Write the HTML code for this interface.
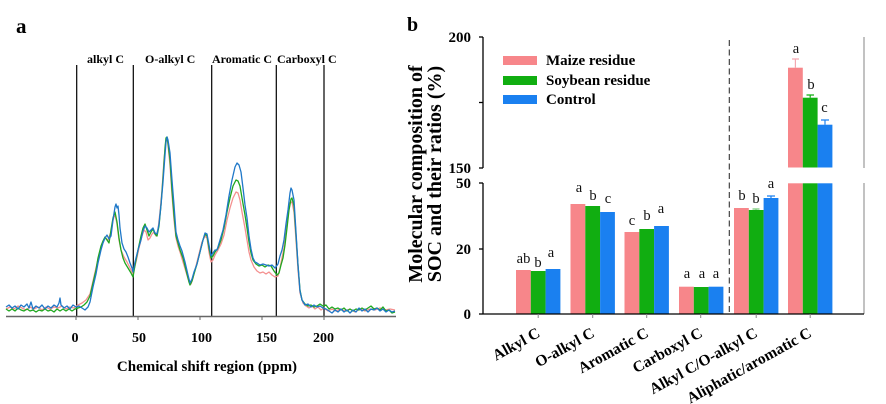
<!DOCTYPE html>
<html><head><meta charset="utf-8"><style>
html,body{margin:0;padding:0;background:#fff;}
svg{display:block;}
text{font-family:"Liberation Serif","Times New Roman",serif;}
.b{font-weight:bold;}
</style></head><body>
<svg width="886" height="404" viewBox="0 0 886 404" xmlns="http://www.w3.org/2000/svg">
<rect width="886" height="404" fill="#fff"/>
<!-- Panel a -->
<text x="16" y="33" class="b" font-size="21">a</text>
<g class="b" font-size="12" fill="#000">
<text x="87" y="63">alkyl C</text>
<text x="145" y="63">O-alkyl C</text>
<text x="212" y="63">Aromatic C</text>
<text x="277" y="63">Carboxyl C</text>
</g>
<g stroke="#000" stroke-width="1.2">
<line x1="76.7" y1="65" x2="76.7" y2="316"/>
<line x1="133.3" y1="65" x2="133.3" y2="316"/>
<line x1="211.7" y1="65" x2="211.7" y2="316"/>
<line x1="276.3" y1="65" x2="276.3" y2="316"/>
<line x1="324" y1="65" x2="324" y2="316"/>
</g>
<g fill="none" stroke-width="1.3" stroke-linejoin="round">
<polyline stroke="#f4908f" points="6,309 10,307 14,309 18,306 22,308 26,310 30,307 34,309 38,307 42,310 46,307 50,309 54,307 58,308 62,306 66,309 70,307 74,308 78,305 82,303 86,300 90,294 93,281 96,268 99,255 102,244 105,238 108,240 111,232 113,220 115,214 117,224 119,240 121,250 124,257 127,262 130,268 133,274 136,262 139,248 142,236 144,230 146,232 148,240 150,238 152,234 154,232 156,236 158,230 160,212 162,190 164,160 166,140 167,138 168,145 170,165 172,195 174,220 176,238 178,246 180,252 183,262 186,272 189,282 191,284 193,278 196,266 199,254 202,242 205,236 207,238 209,252 211,262 213,260 215,255 218,250 221,244 224,235 227,220 230,208 233,198 236,192 238,193 240,200 242,212 245,228 247,240 249,252 251,260 254,267 257,271 260,273 263,272 266,274 269,272 272,275 275,277 278,276 280,268 282,258 284,248 286,230 288,214 290,203 292,202 294,212 296,240 298,270 300,293 303,303 306,306 309,308 312,306 315,309 318,307 321,310 324,308 328,311 332,309 336,311 340,309 345,311 350,309 355,312 360,309 365,311 370,309 375,310 380,308 385,310 390,309 395,310"/>
<polyline stroke="#1fa81f" points="6,309 9,311 12,309 15,311 18,308 21,310 24,311 27,309 30,311 33,310 36,312 39,310 42,311 45,309 48,311 51,310 54,312 57,309 60,311 63,309 66,311 69,309 72,311 75,309 78,308 81,307 84,305 87,302 90,296 93,283 96,270 98,258 101,246 103,241 105,237 107,240 109,243 111,230 113,218 115,212 117,222 119,238 121,250 123,258 125,263 128,268 131,273 133,277 135,265 138,250 141,236 143,228 145,224 147,230 149,236 151,232 153,229 155,234 157,236 159,226 161,205 163,178 165,148 166,138 167,137 168,143 170,160 172,190 174,215 176,236 178,243 180,250 183,258 186,270 189,282 190,285 192,281 194,274 197,264 200,252 203,240 205,234 207,236 209,248 211,258 213,256 215,252 218,248 221,240 224,228 227,212 230,198 233,186 236,180 238,181 240,186 242,198 245,215 247,228 249,242 251,253 253,260 256,264 259,266 262,265 265,267 268,265 271,266 274,271 277,275 279,273 281,265 283,258 285,245 287,228 289,210 291,199 292,198 294,206 296,235 298,265 300,290 302,300 305,304 308,306 311,305 314,307 317,306 320,304 323,306 326,305 329,309 332,307 335,309 338,308 341,310 344,308 347,311 350,309 353,311 356,309 359,310 362,308 365,310 368,308 371,306 374,309 377,308 380,310 383,307 386,311 389,310 392,313 395,312"/>
<polyline stroke="#1f78c8" points="6,307 9,305 12,308 15,306 18,309 21,305 24,307 27,304 29,308 31,302 33,309 36,306 39,308 42,305 45,309 48,306 51,308 54,305 57,307 59,303 60,298 61,305 64,308 67,306 70,309 73,305 76,307 79,306 82,308 85,310 88,307 90,302 93,287 96,274 98,263 101,250 103,243 105,238 107,235 109,239 111,236 113,220 115,207 116,204 117,208 118,206 119,215 120,228 122,243 124,249 126,252 128,257 130,263 132,268 133,272 135,262 138,250 141,240 143,231 145,226 147,228 149,232 151,230 153,228 155,233 157,234 159,224 161,205 163,182 165,155 166,142 167,137 168,140 170,153 172,180 174,205 176,232 178,240 180,246 182,251 185,262 188,275 190,283 192,279 194,272 197,264 200,252 203,240 205,233 207,234 209,245 211,256 213,253 215,250 217,250 220,240 223,230 226,215 229,196 232,180 235,167 237,163 239,165 241,172 243,188 245,205 247,218 249,236 251,249 253,258 255,262 257,263 260,265 263,264 266,265 269,266 272,265 275,268 278,264 280,256 282,250 284,240 286,224 288,210 290,193 291,188 292,190 294,200 296,232 298,265 300,291 302,300 305,305 308,304 311,307 314,305 317,307 320,306 323,308 326,309 329,311 332,313 335,310 338,312 341,309 344,312 347,310 350,313 353,310 356,312 359,308 362,311 365,309 368,312 371,309 374,310 377,308 380,311 383,309 386,312 389,310 392,312 395,311"/>
</g>
<line x1="6" y1="316.5" x2="396" y2="316.5" stroke="#666" stroke-width="1.5"/>
<g stroke="#666" stroke-width="1">
<line x1="76" y1="316" x2="76" y2="320"/>
<line x1="138" y1="316" x2="138" y2="320"/>
<line x1="200" y1="316" x2="200" y2="320"/>
<line x1="262" y1="316" x2="262" y2="320"/>
<line x1="324" y1="316" x2="324" y2="320"/>
</g>
<g class="b" font-size="14" text-anchor="middle">
<text x="75" y="342">0</text>
<text x="139" y="342">50</text>
<text x="201.5" y="342">100</text>
<text x="266.5" y="342">150</text>
<text x="323.5" y="342">200</text>
</g>
<text x="207" y="371" class="b" font-size="15" text-anchor="middle">Chemical shift region (ppm)</text>

<!-- Panel b -->
<text x="407" y="31" class="b" font-size="20">b</text>
<g class="b" font-size="20" text-anchor="middle">
<text transform="translate(422,174) rotate(-90)">Molecular composition of</text>
<text transform="translate(441,174) rotate(-90)">SOC and their ratios (%)</text>
</g>
<g class="b" font-size="15" text-anchor="end">
<text x="471" y="42">200</text>
<text x="471" y="173">150</text>
<text x="471" y="188">50</text>
<text x="471" y="254">20</text>
<text x="471" y="319">0</text>
</g>
<!-- axes -->
<g stroke="#000" stroke-width="1.3">
<line x1="483" y1="37" x2="483" y2="168"/>
<line x1="483" y1="183" x2="483" y2="314"/>
<line x1="479" y1="37" x2="483" y2="37"/>
<line x1="479" y1="102.5" x2="483" y2="102.5"/>
<line x1="479" y1="168" x2="483" y2="168"/>
<line x1="479" y1="183" x2="483" y2="183"/>
<line x1="479" y1="249" x2="483" y2="249"/>
<line x1="479" y1="314" x2="483" y2="314"/>
</g>
<g stroke="#999" stroke-width="1.2">
<line x1="864" y1="37" x2="864" y2="168"/>
<line x1="864" y1="183" x2="864" y2="314"/>
</g>
<line x1="729.3" y1="40" x2="729.3" y2="314" stroke="#333" stroke-width="1.1" stroke-dasharray="6,3.5"/>
<!-- bars -->
<g>
<rect x="516" y="270" width="14.8" height="44" fill="#f7868a"/>
<rect x="530.8" y="271" width="14.8" height="43" fill="#11ae11"/>
<rect x="545.6" y="269" width="14.8" height="45" fill="#1a80f0"/>
<rect x="570.5" y="204" width="14.8" height="110" fill="#f7868a"/>
<rect x="585.3" y="206" width="14.8" height="108" fill="#11ae11"/>
<rect x="600.1" y="212" width="14.8" height="102" fill="#1a80f0"/>
<rect x="624.5" y="232" width="14.8" height="82" fill="#f7868a"/>
<rect x="639.3" y="229" width="14.8" height="85" fill="#11ae11"/>
<rect x="654.1" y="226" width="14.8" height="88" fill="#1a80f0"/>
<rect x="679" y="286.7" width="14.8" height="27.3" fill="#f7868a"/>
<rect x="693.8" y="287" width="14.8" height="27" fill="#11ae11"/>
<rect x="708.6" y="286.7" width="14.8" height="27.3" fill="#1a80f0"/>
<rect x="734" y="208" width="14.8" height="106" fill="#f7868a"/>
<rect x="748.8" y="210" width="14.8" height="104" fill="#11ae11"/>
<rect x="763.6" y="198" width="14.8" height="116" fill="#1a80f0"/>
<rect x="788" y="183.3" width="14.8" height="130.7" fill="#f7868a"/>
<rect x="802.8" y="183.3" width="14.8" height="130.7" fill="#11ae11"/>
<rect x="817.6" y="183.3" width="14.8" height="130.7" fill="#1a80f0"/>
<rect x="788" y="67.7" width="14.8" height="99.8" fill="#f7868a"/>
<rect x="802.8" y="97.7" width="14.8" height="69.8" fill="#11ae11"/>
<rect x="817.6" y="124.7" width="14.8" height="42.8" fill="#1a80f0"/>
</g>
<!-- error bars -->
<g stroke-width="1.2">
<path d="M795.4 67.7V59M792 59H799" stroke="#f4a8b0"/>
<path d="M810.2 97.7V95M806.5 95H814" stroke="#11ae11"/>
<path d="M825 124.7V120M821 120H829" stroke="#1a80f0"/>
<path d="M771 198V196M767 196H775" stroke="#1a80f0"/>
<path d="M756 210V209M752.5 209H759.5" stroke="#7c7"/>
</g>
<line x1="483" y1="314" x2="864" y2="314" stroke="#000" stroke-width="1.3"/>
<g stroke="#888" stroke-width="1">
<line x1="538.2" y1="314" x2="538.2" y2="318"/>
<line x1="592.7" y1="314" x2="592.7" y2="318"/>
<line x1="646.7" y1="314" x2="646.7" y2="318"/>
<line x1="700.7" y1="314" x2="700.7" y2="318"/>
<line x1="756.2" y1="314" x2="756.2" y2="318"/>
<line x1="810.2" y1="314" x2="810.2" y2="318"/>
</g>
<!-- significance letters -->
<g font-size="14.5" text-anchor="middle" fill="#111">
<text x="523.5" y="263">ab</text>
<text x="538" y="267">b</text>
<text x="551" y="257">a</text>
<text x="579" y="192">a</text>
<text x="593" y="200">b</text>
<text x="608" y="203">c</text>
<text x="632" y="225">c</text>
<text x="647" y="220">b</text>
<text x="661" y="213">a</text>
<text x="687" y="278">a</text>
<text x="702" y="278">a</text>
<text x="716" y="278">a</text>
<text x="742" y="200">b</text>
<text x="756" y="203">b</text>
<text x="771" y="188">a</text>
<text x="796" y="53">a</text>
<text x="811" y="89">b</text>
<text x="824.5" y="112">c</text>
</g>
<!-- legend -->
<rect x="503" y="56" width="34" height="9" fill="#f7868a"/>
<rect x="503" y="76" width="34" height="9" fill="#11ae11"/>
<rect x="503" y="95" width="34" height="9" fill="#1a80f0"/>
<g class="b" font-size="15">
<text x="546" y="65">Maize residue</text>
<text x="546" y="85">Soybean residue</text>
<text x="546" y="104">Control</text>
</g>
<!-- category labels -->
<g class="b" font-size="15.5" text-anchor="end">
<text transform="translate(541,336) rotate(-29)">Alkyl C</text>
<text transform="translate(595.5,336) rotate(-29)">O-alkyl C</text>
<text transform="translate(649.5,336) rotate(-29)">Aromatic C</text>
<text transform="translate(703.5,336) rotate(-29)">Carboxyl C</text>
<text transform="translate(758.5,336) rotate(-29)">Alkyl C/O-alkyl C</text>
<text transform="translate(812.5,336) rotate(-29)">Aliphatic/aromatic C</text>
</g>
</svg>
</body></html>
